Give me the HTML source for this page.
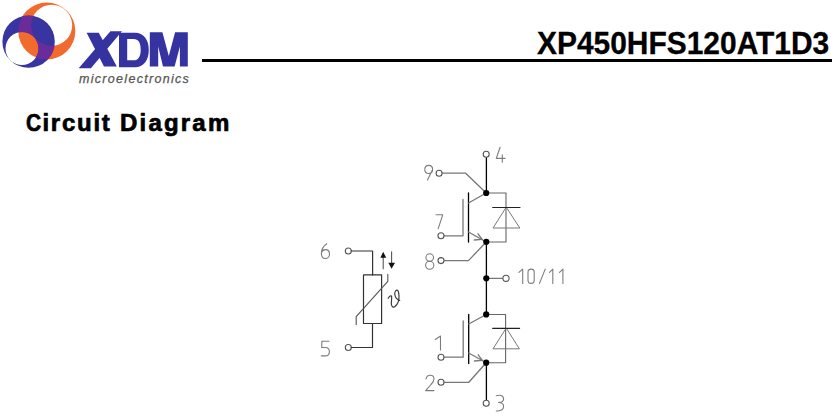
<!DOCTYPE html>
<html><head><meta charset="utf-8">
<style>
html,body{margin:0;padding:0;background:#fff;}
body{width:837px;height:416px;overflow:hidden;position:relative;font-family:"Liberation Sans",sans-serif;}
.abs{position:absolute;white-space:nowrap;}
#title{left:537px;top:28.3px;font-size:31px;line-height:31px;font-weight:bold;color:#000;transform:scaleX(0.9655);-webkit-text-stroke:0.3px #000;transform-origin:0 0;}
#rule{left:201.6px;top:58.6px;width:630px;height:3.8px;background:#000;}
#heading{left:25.5px;top:111px;font-size:24px;line-height:24px;font-weight:bold;color:#000;letter-spacing:1.75px;-webkit-text-stroke:0.7px #000;}
#micro{left:79px;top:73px;font-size:12.5px;line-height:12.5px;font-weight:normal;font-style:italic;color:#555;letter-spacing:1.3px;-webkit-text-stroke:0.25px #555;}
svg{position:absolute;left:0;top:0;}
</style></head>
<body>
<svg width="837" height="416" viewBox="0 0 837 416">
  <defs>
    <clipPath id="blueRing"><path clip-rule="evenodd" d="M2.4,41.6a26.2,26.2 0 1,0 52.4,0a26.2,26.2 0 1,0 -52.4,0Z M5.5,48.5a16.5,16.5 0 1,0 33,0a16.5,16.5 0 1,0 -33,0Z"/></clipPath>
  </defs>
  <!-- orange ring -->
  <path fill="#f16b2c" fill-rule="evenodd" d="M18.3,31a28.5,28.5 0 1,0 57,0a28.5,28.5 0 1,0 -57,0Z M31.2,25.3a20.5,20.5 0 1,0 41,0a20.5,20.5 0 1,0 -41,0Z"/>
  <!-- blue ring -->
  <path fill="#3835a0" fill-rule="evenodd" d="M2.4,41.6a26.2,26.2 0 1,0 52.4,0a26.2,26.2 0 1,0 -52.4,0Z M5.5,48.5a16.5,16.5 0 1,0 33,0a16.5,16.5 0 1,0 -33,0Z"/>
  <!-- purple overlap -->
  <path fill="#6a2c9a" fill-rule="evenodd" clip-path="url(#blueRing)" d="M18.3,31a28.5,28.5 0 1,0 57,0a28.5,28.5 0 1,0 -57,0Z M31.2,25.3a20.5,20.5 0 1,0 41,0a20.5,20.5 0 1,0 -41,0Z"/>
  <!-- X -->
  <g fill="#3533a0">
  <path d="M86.6,32.8H98.8L116.8,66.6H104Z M110.4,31.2H122L90.9,68.2H78.7Z"/>
  <path fill-rule="evenodd" d="M119,32.8H135C143.5,32.8 148.8,39.5 148.8,50C148.8,60.5 143.5,67.2 135,67.2H119Z M127.2,39.1H133.5C138.5,39.1 140.7,43 140.7,49.7C140.7,56.4 138.5,60.3 133.5,60.3H127.2Z"/>
  <path d="M149.8,32.2H162.4L168.8,56L175.1,32.2H187.8V66.6H179.9V46.5L174.6,66.6H163L158.2,46.5V66.6H149.8Z"/>
  </g>
</svg>
<div id="micro" class="abs">microelectronics</div>
<div id="title" class="abs">XP450HFS120AT1D3</div>
<div id="rule" class="abs"></div>
<div id="heading" class="abs"><span style="letter-spacing:1.75px"><span style="display:inline-block;transform:scaleX(0.87);transform-origin:0 0;margin-right:-2.2px">C</span>ircuit </span><span style="letter-spacing:2.2px">Diagram</span></div>

<svg width="837" height="416" viewBox="0 0 837 416" fill="none" stroke-linecap="round" stroke-linejoin="round">
  <!-- main vertical line -->
  <g stroke="#000" stroke-width="1.3">
    <path d="M486.4,157.5V193M486.4,241.8V314.4M486.4,362.7V400"/>
    <path d="M468.5,193V242"/>
    <path d="M468.7,314.5V363.5"/>
  </g>
  <g stroke="#777" stroke-width="1.3">
    <!-- upper IGBT -->
    <path d="M442,173.2H465.7L486.2,193"/>
    <path d="M468.5,203L486.2,193"/>
    <path d="M468.5,232L486.2,242"/>
    <path d="M463,199.5V235.8H444"/>
    <path d="M444,260.6H468.5L486.2,242"/>
    <!-- diode upper -->
    <!-- arrow emitter upper -->
    <path d="M478,233.8L482.2,239.4L474.2,240"/>
    <!-- mid -->
    <path d="M486.2,278.3H502.7"/>
    <!-- lower IGBT -->
    <path d="M468.7,324L486.2,314.5"/>
    <path d="M468.7,353L486.2,362.7"/>
    <path d="M463.2,321V357.2H444"/>
    <path d="M444,382.3H468.8L486.2,362.7"/>
    <path d="M478.2,354.8L482.4,360.4L474.4,361"/>
  </g>
  <g stroke="#666" stroke-width="1.1">
    <path d="M486.2,193H506V242H486.2"/>
    <path d="M486.2,314.5H505.6V362.7H486.2"/>
  </g>
  <g stroke="#777" stroke-width="1">
    <path d="M506,207.5L493,228H519.4Z"/>
    <path d="M506,328.4L493,348.8H519Z"/>
  </g>
  <g stroke="#222" stroke-width="1.1">
    <path d="M492.7,207.5H520"/>
    <path d="M492.7,328.4H519.6"/>
  </g>
  <!-- terminal circles -->
  <g stroke="#555" stroke-width="1.1" fill="#fff">
    <circle cx="486.2" cy="154.3" r="3"/>
    <circle cx="439.1" cy="173.2" r="3"/>
    <circle cx="441" cy="235.8" r="3"/>
    <circle cx="441" cy="260.6" r="3"/>
    <circle cx="506" cy="278.3" r="3.1"/>
    <circle cx="441" cy="357.2" r="3"/>
    <circle cx="441" cy="382.3" r="3"/>
    <circle cx="486.2" cy="403.2" r="3"/>
    <circle cx="348.3" cy="251" r="3"/>
    <circle cx="348.3" cy="347.5" r="3"/>
  </g>
  <!-- dots -->
  <g fill="#000" stroke="none">
    <circle cx="486.2" cy="193" r="3.1"/>
    <circle cx="486.3" cy="241.8" r="3.1"/>
    <circle cx="486.3" cy="278.3" r="3.1"/>
    <circle cx="486.2" cy="314.4" r="3.1"/>
    <circle cx="486.2" cy="362.7" r="3.1"/>
  </g>
  <!-- thermistor -->
  <g stroke="#333" stroke-width="1.2">
    <path d="M351.3,251H372.6V274.9"/>
    <rect x="363.5" y="274.9" width="18.1" height="48.6"/>
    <path d="M372.5,323.5V347.5H351.3"/>
  </g>
  <g stroke="#555" stroke-width="1.1">
    <path d="M356.2,324.4V316.7L387.8,281.3V274.2"/>
    <path d="M383.2,268.7V256M391.6,251.8V264"/>
  </g>
  <g fill="#111">
    <path d="M380.4,257.7L383.2,251.8L386.2,257.7Z"/>
    <path d="M388.3,262.8L391.6,268.7L395,262.8Z"/>
  </g>
  <!-- labels -->
  <g stroke="#7c7c7c" stroke-width="1.1">
    <!-- 4 -->
    <path d="M500.1,147.2L496.3,158.4H505M502.3,154.7V162.2"/>
    <!-- 9 -->
    <path d="M432.6,169.5C432.6,166.9 430.8,165.4 428.7,165.4C426.4,165.4 424.8,167.2 424.8,169.5C424.8,171.8 426.4,173.5 428.7,173.5C430.8,173.5 432.6,172 432.6,169.5L427.5,180"/>
    <!-- 7 -->
    <path d="M436,214.8H442.7L438.2,228.6"/>
    <!-- 8 -->
    <ellipse cx="429.7" cy="257.5" rx="3.8" ry="3.7"/>
    <ellipse cx="429.7" cy="265.2" rx="4.1" ry="4"/>
    <!-- 10/11 -->
    <path d="M518.9,272.4L522.7,269.1V283.4"/>
    <rect x="528" y="269.1" width="6.2" height="14.3" rx="3.1" ry="3.1"/>
    <path d="M539.5,283.4L545.2,269.1"/>
    <path d="M549.5,272.4L552.8,269.1V283.4"/>
    <path d="M559.5,272.4L562.9,269.1V283.4"/>
    <!-- 6 -->
    <path d="M326.8,243.8C323.5,246 321.4,249.5 321.4,253.5C321.4,256.5 323.2,258.5 325.5,258.5C327.8,258.5 329.5,256.5 329.5,254C329.5,251.5 327.8,249.6 325.5,249.6C323.5,249.6 322,251 321.5,252.5"/>
    <!-- 5 -->
    <path d="M329,341.2H321.8V347.5H325.3C327.8,347.5 329.4,349.2 329.4,351.7C329.4,354.2 327.8,355.9 325.3,355.9H321.3"/>
    <!-- 1 -->
    <path d="M435.3,339.5L440.5,336V350"/>
    <!-- 2 -->
    <path d="M426,379C426.5,376.8 428.3,375.3 430.2,375.3C432.4,375.3 434,376.9 434,379C434,381 432.7,382.8 431,384.5L425.6,390.6H434"/>
    <!-- 3 -->
    <path d="M496.3,395.8C498,395.3 500,395.2 501,395.5C502.8,396 503.6,397.5 503.6,399C503.6,401.5 501.5,402.5 498.5,402.5C501.5,402.5 503.6,404 503.6,406.5C503.6,409.5 500.5,411.2 496.3,411"/>
  </g>
  <!-- theta -->
  <path fill="none" stroke="#3a3a3a" stroke-width="1.2" d="M388.2,298.3C389.5,296 391,295 391.6,296.5C392,298.5 391,302 391.4,304.5C391.8,307 393.5,307.8 395,306.5C397.5,304.5 399.2,300.5 399,296C398.8,292 398,290 397,290.2C395.5,290.5 394.5,292.5 394.8,294.5C395.2,297 396.5,299.5 399.7,300.3"/>
</svg>
</body></html>
